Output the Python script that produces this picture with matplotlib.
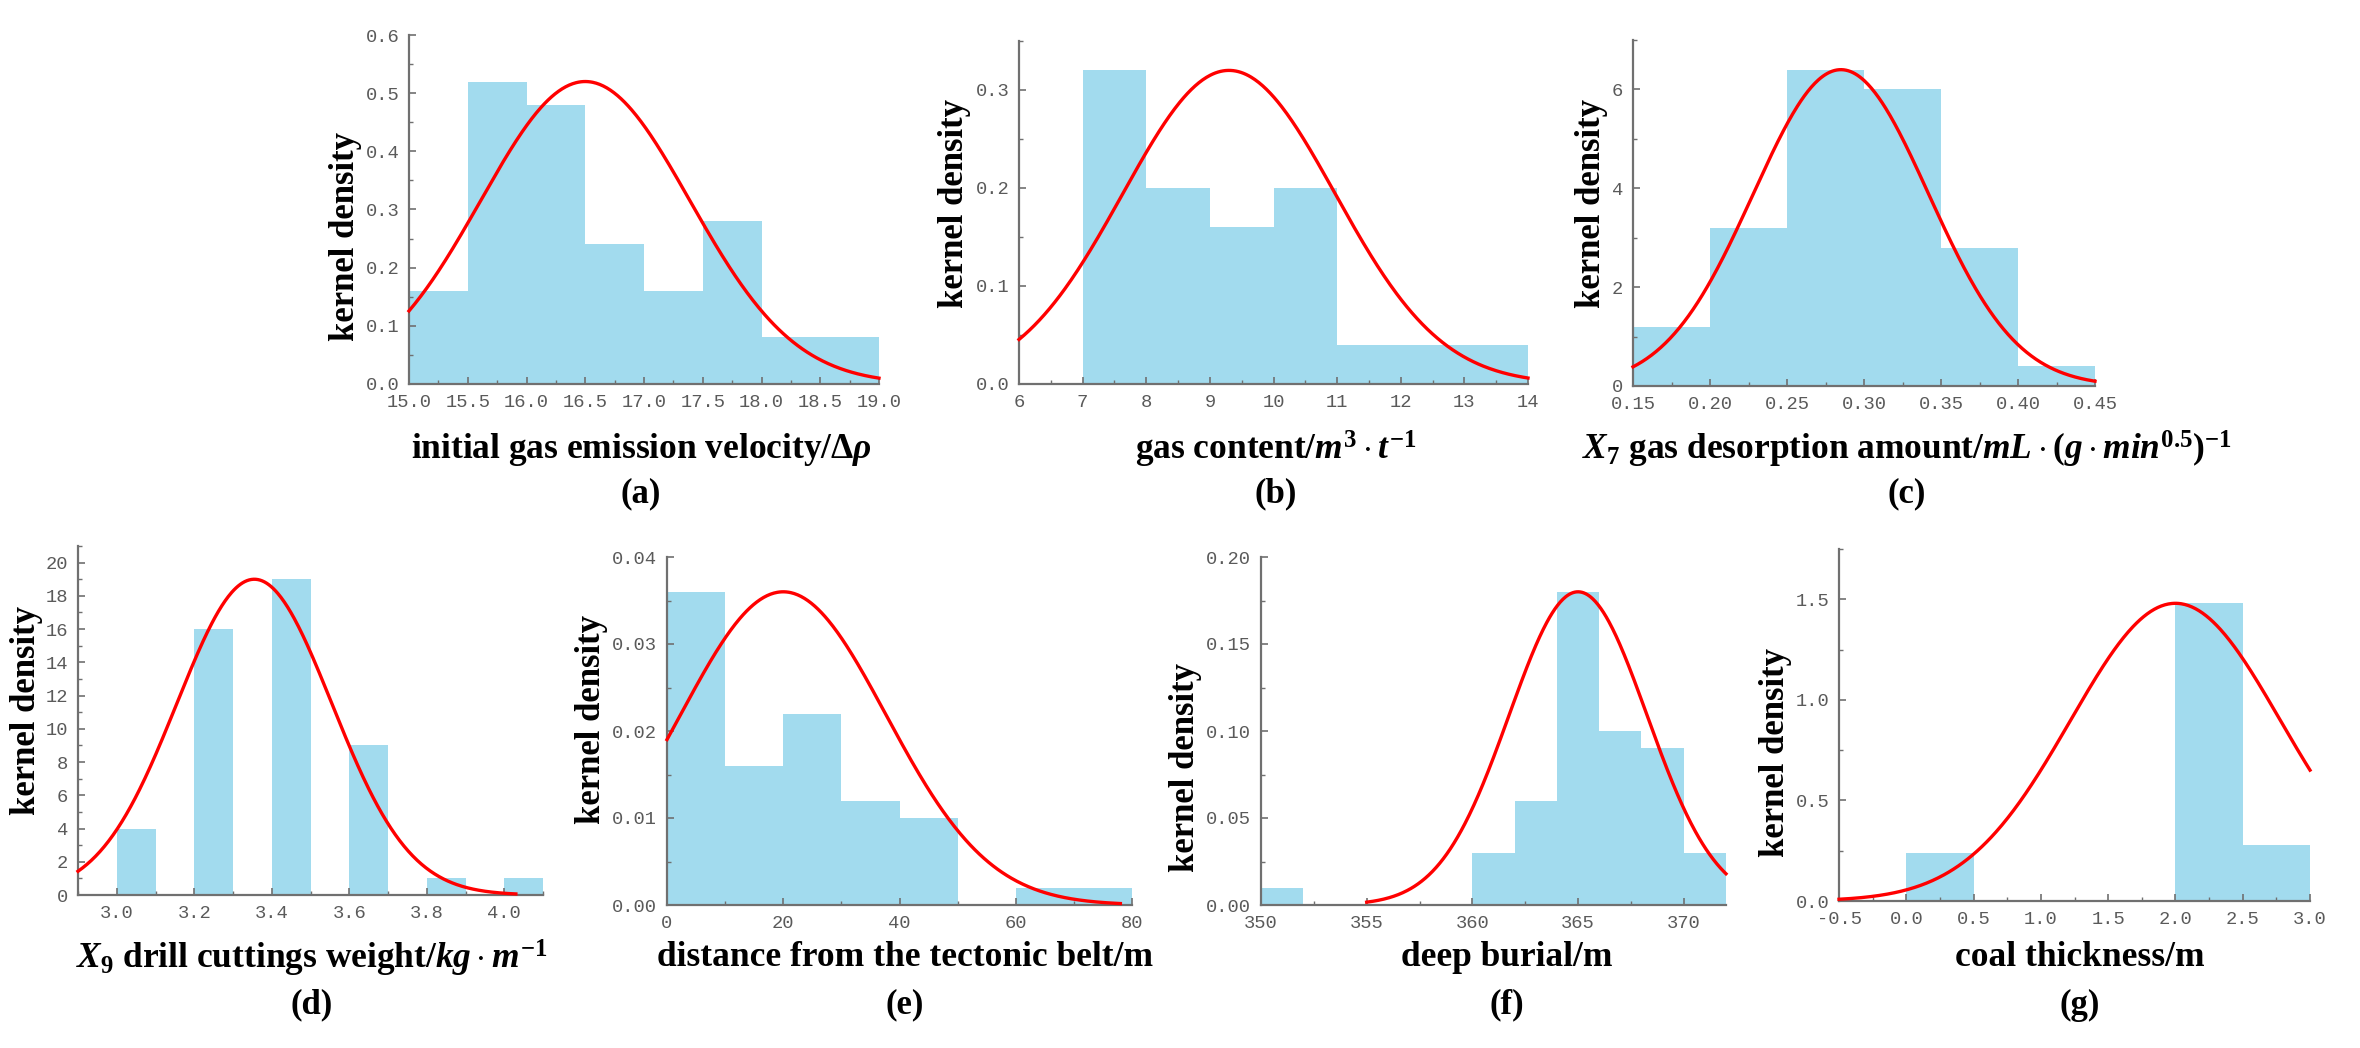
import numpy as np
import matplotlib
matplotlib.use("Agg")
import matplotlib.pyplot as plt
from matplotlib.ticker import MultipleLocator, FormatStrFormatter

plt.rcParams['font.family'] = ['Liberation Serif', 'DejaVu Serif']
plt.rcParams['mathtext.fontset'] = 'custom'
plt.rcParams['mathtext.rm'] = 'Liberation Serif:bold'
plt.rcParams['mathtext.it'] = 'Liberation Serif:italic:bold'
plt.rcParams['mathtext.bf'] = 'Liberation Serif:bold'
plt.rcParams['axes.unicode_minus'] = False

# ---------------- data ----------------
# (a) initial gas emission velocity
a_edges = [15.0, 15.5, 16.0, 16.5, 17.0, 17.5, 18.0, 18.5, 19.0]
a_vals = [0.16, 0.52, 0.48, 0.24, 0.16, 0.28, 0.08, 0.08]
a_fit = dict(mu=16.5, sigma=0.89, peak=0.52, lo=15.0, hi=19.0)

# (b) gas content
b_edges = [6, 7, 8, 9, 10, 11, 12, 13, 14]
b_vals = [0.0, 0.32, 0.20, 0.16, 0.20, 0.04, 0.04, 0.04]
b_fit = dict(mu=9.3, sigma=1.67, peak=0.32, lo=6.0, hi=14.0)

# (c) gas desorption amount
c_edges = [0.15, 0.20, 0.25, 0.30, 0.35, 0.40, 0.45]
c_vals = [1.2, 3.2, 6.4, 6.0, 2.8, 0.4]
c_fit = dict(mu=0.285, sigma=0.057, peak=6.4, lo=0.15, hi=0.45)

# (d) drill cuttings weight
d_edges = [3.0, 3.1, 3.2, 3.3, 3.4, 3.5, 3.6, 3.7, 3.8, 3.9, 4.0, 4.1]
d_vals = [4, 0, 16, 0, 19, 0, 9, 0, 1, 0, 1]
d_fit = dict(mu=3.355, sigma=0.2, peak=19.0, lo=2.9, hi=4.03)

# (e) distance from the tectonic belt
e_edges = [0, 10, 20, 30, 40, 50, 60, 70, 80]
e_vals = [0.036, 0.016, 0.022, 0.012, 0.010, 0.0, 0.002, 0.002]
e_fit = dict(mu=20.0, sigma=17.7, peak=0.036, lo=0.0, hi=78.0)

# (f) deep burial
f_edges = [350, 352, 354, 356, 358, 360, 362, 364, 366, 368, 370, 372]
f_vals = [0.01, 0, 0, 0, 0, 0.03, 0.06, 0.18, 0.10, 0.09, 0.03]
f_fit = dict(mu=365.0, sigma=3.26, peak=0.18, lo=355.0, hi=372.0)

# (g) coal thickness
g_edges = [0.0, 0.5, 1.0, 1.5, 2.0, 2.5, 3.0]
g_vals = [0.24, 0.0, 0.0, 0.0, 1.48, 0.28]
g_fit = dict(mu=2.0, sigma=0.78, peak=1.48, lo=-0.5, hi=3.0)

xlabels = [
    r"initial gas emission velocity/$\Delta\rho$",
    r"gas content/$m^3\cdot t^{-1}$",
    r"$X_7$ gas desorption amount/$mL\cdot(g\cdot min^{0.5})^{-1}$",
    r"$X_9$ drill cuttings weight/$kg\cdot m^{-1}$",
    r"distance from the tectonic belt/m",
    r"deep burial/m",
    r"coal thickness/m",
]
panel_tags = ["(a)", "(b)", "(c)", "(d)", "(e)", "(f)", "(g)"]

# ---------------- layout (pixels) ----------------
W, H = 2360, 1048
fig = plt.figure(figsize=(W / 100, H / 100), dpi=100)

BAR = '#A2DBEE'
RED = '#FF0000'
GREY = '#707070'
TICKFAMILY = ['Liberation Mono', 'DejaVu Sans Mono']
TICKSIZE = 13.5


def add_axes(l, r, t, b):
    ax = fig.add_axes([l / W, 1 - b / H, (r - l) / W, (b - t) / H])
    ax._px = (l, r, t, b)
    return ax


def style(ax, xlim, ylim, xmaj, xmin, ymaj, ymin, xfmt, yfmt, ylab_pos):
    ax.set_xlim(*xlim)
    ax.set_ylim(*ylim)
    for s in ['top', 'right']:
        ax.spines[s].set_visible(False)
    for s in ['left', 'bottom']:
        ax.spines[s].set_color(GREY)
        ax.spines[s].set_linewidth(1.6)
    ax.xaxis.set_major_locator(MultipleLocator(xmaj))
    ax.xaxis.set_minor_locator(MultipleLocator(xmin))
    ax.yaxis.set_major_locator(MultipleLocator(ymaj))
    ax.yaxis.set_minor_locator(MultipleLocator(ymin))
    ax.xaxis.set_major_formatter(FormatStrFormatter(xfmt))
    ax.yaxis.set_major_formatter(FormatStrFormatter(yfmt))
    ax.tick_params(which='major', direction='in', length=5, width=1.2,
                   color=GREY, labelcolor='#5a5a5a', pad=7)
    ax.tick_params(which='minor', direction='in', length=3, width=1.0,
                   color=GREY)
    for lab in ax.get_xticklabels() + ax.get_yticklabels():
        lab.set_fontfamily(TICKFAMILY)
        lab.set_fontsize(TICKSIZE)
    # ylabel: x given as the right edge of the rotated text, y as its centre
    ax.set_ylabel("kernel density", fontsize=25, fontweight='bold')
    l, r, t, b = ax._px
    rx, cy = ylab_pos
    ax.yaxis.set_label_coords((rx - l) / (r - l), (b - cy) / (b - t))


def draw(ax, edges, vals, fit):
    edges = np.asarray(edges, dtype=float)
    ax.bar(edges[:-1], vals, width=np.diff(edges), align='edge',
           color=BAR, linewidth=0, zorder=1)
    xs = np.linspace(fit['lo'], fit['hi'], 400)
    ys = fit['peak'] * np.exp(-(xs - fit['mu']) ** 2 / (2 * fit['sigma'] ** 2))
    ax.plot(xs, ys, color=RED, lw=2.4, zorder=3, clip_on=False)


# top row
ax_a = add_axes(409, 879, 35, 384)
draw(ax_a, a_edges, a_vals, a_fit)
style(ax_a, (15, 19), (0, 0.6), 0.5, 0.25, 0.1, 0.05, '%.1f', '%.1f',
      (362, 236))

ax_b = add_axes(1019, 1528, 41, 384)
draw(ax_b, b_edges, b_vals, b_fit)
style(ax_b, (6, 14), (0, 0.35), 1, 0.5, 0.1, 0.05, '%d', '%.1f',
      (971, 203))

ax_c = add_axes(1633, 2095, 40, 386)
draw(ax_c, c_edges, c_vals, c_fit)
style(ax_c, (0.15, 0.45), (0, 7), 0.05, 0.025, 2, 1, '%.2f', '%d',
      (1608, 203))

# bottom row
ax_d = add_axes(78, 543, 546, 895)
draw(ax_d, d_edges, d_vals, d_fit)
style(ax_d, (2.9, 4.1), (0, 21), 0.2, 0.1, 2, 1, '%.1f', '%d',
      (43, 710))

ax_e = add_axes(667, 1132, 557, 905)
draw(ax_e, e_edges, e_vals, e_fit)
style(ax_e, (0, 80), (0, 0.04), 20, 10, 0.01, 0.005, '%d', '%.2f',
      (608, 719))

ax_f = add_axes(1261, 1726, 557, 905)
draw(ax_f, f_edges, f_vals, f_fit)
style(ax_f, (350, 372), (0, 0.2), 5, 2.5, 0.05, 0.025, '%d', '%.2f',
      (1202, 767))

ax_g = add_axes(1839, 2310, 549, 901)
draw(ax_g, g_edges, g_vals, g_fit)
style(ax_g, (-0.5, 3.0), (0, 1.75), 0.5, 0.25, 0.5, 0.25, '%.1f', '%.1f',
      (1792, 752))

# x labels and panel tags
label_x = [641, 1276, 1907, 312, 905, 1507, 2080]
label_y = [449, 449, 449, 958, 958, 958, 958]
tag_y = [494, 494, 494, 1005, 1005, 1005, 1005]
for txt, tag, x, y, ty in zip(xlabels, panel_tags, label_x, label_y, tag_y):
    fig.text(x / W, 1 - y / H, txt, fontsize=25.5, fontweight='bold',
             ha='center', va='center')
    fig.text(x / W, 1 - ty / H, tag, fontsize=25, fontweight='bold',
             ha='center', va='center')

fig.savefig("out.png", dpi=100, facecolor='white')
